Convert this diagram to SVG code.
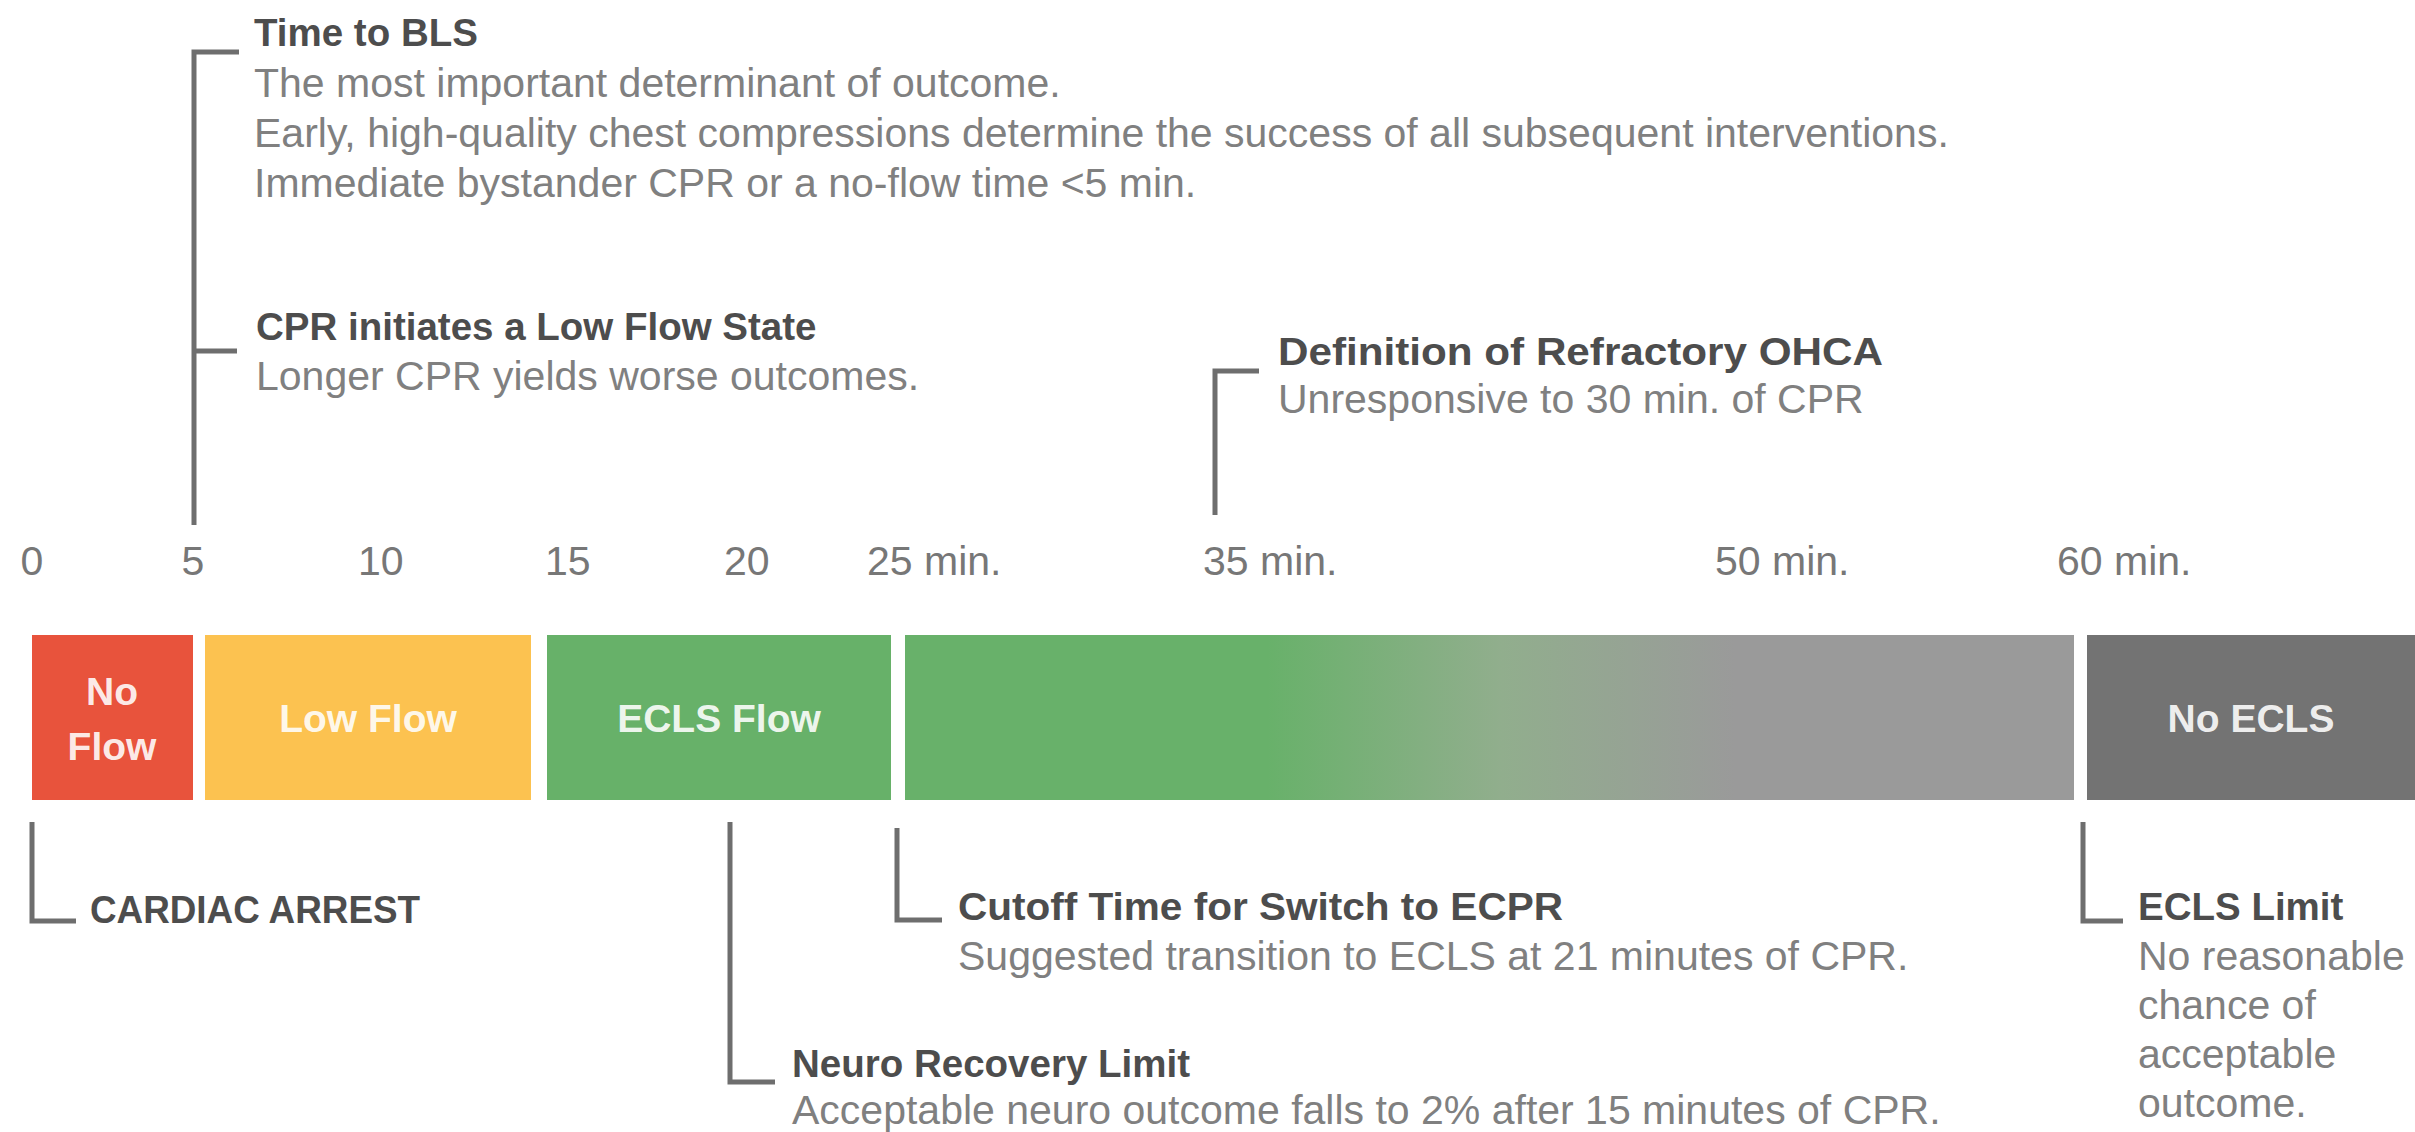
<svg xmlns="http://www.w3.org/2000/svg" width="2415" height="1132" viewBox="0 0 2415 1132">
  <style>
    text { font-family: "Liberation Sans", Arial, sans-serif; }
    .h { font-size: 38.5px; font-weight: bold; fill: #4d4d4d; }
    .b { font-size: 41px; fill: #808080; }
    .t { font-size: 41px; fill: #777777; }
    .lbl { font-size: 39px; font-weight: bold; fill: #ffffff; fill-opacity: 0.9; text-anchor: middle; }
    .br { fill: none; stroke: #6e6e6e; stroke-width: 5; stroke-linecap: butt; stroke-linejoin: miter; }
  </style>
  <defs>
    <linearGradient id="fade" x1="0" y1="0" x2="1" y2="0">
      <stop offset="0" stop-color="#68b16a"/>
      <stop offset="0.31" stop-color="#68b16a"/>
      <stop offset="0.51" stop-color="#91ae8d"/>
      <stop offset="0.71" stop-color="#9a9a9a"/>
      <stop offset="1" stop-color="#9a9a9a"/>
    </linearGradient>
  </defs>
  <rect width="2415" height="1132" fill="#ffffff"/>

  <g id="connectors">
    <path class="br" d="M239,52 H194 V525"/>
    <path class="br" d="M194,351 H237"/>
    <path class="br" d="M1259,371 H1215 V515"/>
    <path class="br" d="M32,822 V921 H76"/>
    <path class="br" d="M730,822 V1082 H775"/>
    <path class="br" d="M897,828 V920 H942"/>
    <path class="br" d="M2083,822 V921 H2123"/>
  </g>

  <g id="axis-labels">
    <text class="t" x="32" y="575" text-anchor="middle">0</text>
    <text class="t" x="193" y="575" text-anchor="middle">5</text>
    <text class="t" x="358" y="575">10</text>
    <text class="t" x="545" y="575">15</text>
    <text class="t" x="724" y="575">20</text>
    <text class="t" x="867" y="575">25 min.</text>
    <text class="t" x="1203" y="575">35 min.</text>
    <text class="t" x="1715" y="575">50 min.</text>
    <text class="t" x="2057" y="575">60 min.</text>
  </g>

  <g id="no-flow">
    <rect x="32" y="635" width="161" height="165" fill="#e8533c"/>
    <text class="lbl" x="112" y="705">No</text>
    <text class="lbl" x="112" y="760">Flow</text>
  </g>
  <g id="low-flow">
    <rect x="205" y="635" width="326" height="165" fill="#fcc250"/>
    <text class="lbl" x="368" y="732">Low Flow</text>
  </g>
  <g id="ecls-flow">
    <rect x="547" y="635" width="344" height="165" fill="#67b169"/>
    <text class="lbl" x="719" y="732">ECLS Flow</text>
  </g>
  <g id="transition">
    <rect x="905" y="635" width="1169" height="165" fill="url(#fade)"/>
  </g>
  <g id="no-ecls">
    <rect x="2087" y="635" width="328" height="165" fill="#737373"/>
    <text class="lbl" x="2251" y="732">No ECLS</text>
  </g>

  <g id="time-to-bls">
    <text class="h" x="254" y="46">Time to BLS</text>
    <text class="b" x="254" y="97">The most important determinant of outcome.</text>
    <text class="b" x="254" y="147">Early, high-quality chest compressions determine the success of all subsequent interventions.</text>
    <text class="b" x="254" y="197">Immediate bystander CPR or a no-flow time &lt;5 min.</text>
  </g>
  <g id="low-flow-state">
    <text class="h" x="256" y="340">CPR initiates a Low Flow State</text>
    <text class="b" x="256" y="390">Longer CPR yields worse outcomes.</text>
  </g>
  <g id="refractory-ohca">
    <text class="h" x="1278" y="365" textLength="605" lengthAdjust="spacingAndGlyphs">Definition of Refractory OHCA</text>
    <text class="b" x="1278" y="413">Unresponsive to 30 min. of CPR</text>
  </g>
  <g id="cardiac-arrest">
    <text class="h" x="90" y="923" textLength="330" lengthAdjust="spacingAndGlyphs">CARDIAC ARREST</text>
  </g>
  <g id="cutoff-time">
    <text class="h" x="958" y="920" textLength="605" lengthAdjust="spacingAndGlyphs">Cutoff Time for Switch to ECPR</text>
    <text class="b" x="958" y="970">Suggested transition to ECLS at 21 minutes of CPR.</text>
  </g>
  <g id="neuro-limit">
    <text class="h" x="792" y="1077">Neuro Recovery Limit</text>
    <text class="b" x="792" y="1124">Acceptable neuro outcome falls to 2% after 15 minutes of CPR.</text>
  </g>
  <g id="ecls-limit">
    <text class="h" x="2138" y="920">ECLS Limit</text>
    <text class="b" x="2138" y="970">No reasonable</text>
    <text class="b" x="2138" y="1019">chance of</text>
    <text class="b" x="2138" y="1068">acceptable</text>
    <text class="b" x="2138" y="1117">outcome.</text>
  </g>
</svg>
